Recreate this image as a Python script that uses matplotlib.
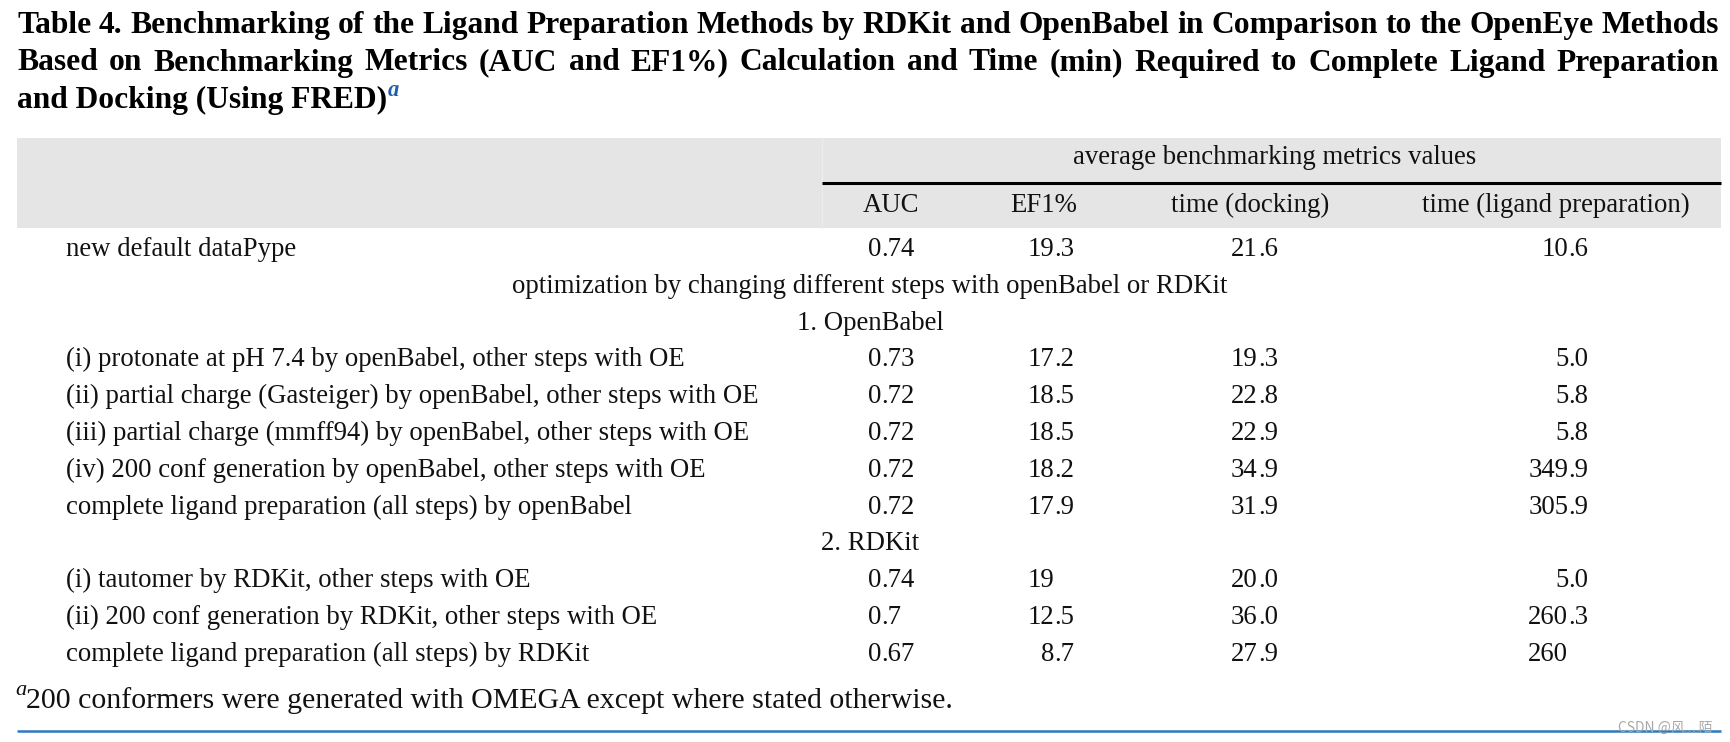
import matplotlib
matplotlib.use("Agg")
import matplotlib.pyplot as plt
from matplotlib.patches import Rectangle

# --- table content ---
title_lines = [
    "Table 4. Benchmarking of the Ligand Preparation Methods by RDKit and OpenBabel in Comparison to the OpenEye Methods",
    "Based on Benchmarking Metrics (AUC and EF1%) Calculation and Time (min) Required to Complete Ligand Preparation",
    "and Docking (Using FRED)",
]
group_header = "average benchmarking metrics values"
col_headers = ["AUC", "EF1%", "time (docking)", "time (ligand preparation)"]

default_label = "new default dataPype"
default_values = ["0.74", "19.3", "21.6", "10.6"]

optim_heading = "optimization by changing different steps with openBabel or RDKit"

openbabel_heading = "1. OpenBabel"
openbabel_labels = [
    "(i) protonate at pH 7.4 by openBabel, other steps with OE",
    "(ii) partial charge (Gasteiger) by openBabel, other steps with OE",
    "(iii) partial charge (mmff94) by openBabel, other steps with OE",
    "(iv) 200 conf generation by openBabel, other steps with OE",
    "complete ligand preparation (all steps) by openBabel",
]
openbabel_auc = ["0.73", "0.72", "0.72", "0.72", "0.72"]
openbabel_ef1 = ["17.2", "18.5", "18.5", "18.2", "17.9"]
openbabel_dock = ["19.3", "22.8", "22.9", "34.9", "31.9"]
openbabel_prep = ["5.0", "5.8", "5.8", "349.9", "305.9"]

rdkit_heading = "2. RDKit"
rdkit_labels = [
    "(i) tautomer by RDKit, other steps with OE",
    "(ii) 200 conf generation by RDKit, other steps with OE",
    "complete ligand preparation (all steps) by RDKit",
]
rdkit_auc = ["0.74", "0.7", "0.67"]
rdkit_ef1 = ["19", "12.5", "8.7"]
rdkit_dock = ["20.0", "36.0", "27.9"]
rdkit_prep = ["5.0", "260.3", "260"]

footnote = "200 conformers were generated with OMEGA except where stated otherwise."
watermark = "CSDN @风﹏陌"

SERIF = ["Liberation Serif", "DejaVu Serif"]

fig = plt.figure(figsize=(17.3, 7.42), dpi=100)
ax = fig.add_axes([0, 0, 1, 1])
ax.set_xlim(0, 1730)
ax.set_ylim(742, 0)
ax.axis("off")
renderer = fig.canvas.get_renderer()


def text_width(s, size, **kw):
    t = ax.text(0, 0, s, fontsize=size, family=SERIF, **kw)
    w = t.get_window_extent(renderer).width
    t.remove()
    return w


def fit_size(s, target, **kw):
    return 20 * target / text_width(s, 20, **kw)


def justify(s, x0, x1, y, size, **kw):
    words = s.split(" ")
    widths = [text_width(w, size, **kw) for w in words]
    gap = (x1 - x0 - sum(widths)) / (len(words) - 1)
    x = x0
    for w, wd in zip(words, widths):
        ax.text(x, y, w, fontsize=size, family=SERIF, ha="left", va="baseline", **kw)
        x += wd + gap


# --- title ---
tsize = fit_size(title_lines[0], 1702, weight="bold")
justify(title_lines[0], 17, 1719, 33, tsize, weight="bold")
justify(title_lines[1], 17, 1719, 70.5, tsize, weight="bold")
ax.text(17, 108, title_lines[2], fontsize=tsize, family=SERIF, weight="bold",
        ha="left", va="baseline")
w3 = text_width(title_lines[2], tsize, weight="bold")
ax.text(17 + w3 + 1, 96, "a", fontsize=tsize * 0.72, family=SERIF, weight="bold",
        style="italic", color="#1d5fae", ha="left", va="baseline")

# --- header band ---
ax.add_patch(Rectangle((17, 138), 1704, 90, color="#e5e5e5", lw=0))
ax.plot([822, 822], [138, 228], color="#ececec", lw=1)
ax.plot([822, 1721], [183, 183], color="black", lw=2.2, solid_capstyle="butt")

bsize = fit_size(openbabel_labels[1], 693)
body = dict(fontsize=bsize, family=SERIF, color="#111111", va="baseline")

ax.text(1275, 164, group_header, ha="center", **body)
header_x = [891, 1044, 1250, 1556]
for x, h in zip(header_x, col_headers):
    ax.text(x, 212, h, ha="center", **body)

# decimal alignment positions
dec_x = [
    868 + text_width("0", bsize),
    1028 + text_width("17", bsize),
    1231 + text_width("19", bsize),
    1555 + text_width("5", bsize),
]


def put_num(xd, y, s):
    ip, _, fp = s.partition(".")
    ax.text(xd, y, ip, ha="right", **body)
    if fp:
        ax.text(xd, y, "." + fp, ha="left", **body)


def put_row(y, label, values):
    ax.text(66, y, label, ha="left", **body)
    for xd, v in zip(dec_x, values):
        put_num(xd, y, v)


step = 36.8
base = 256
row = 0
put_row(base + row * step, default_label, default_values)
row += 1
ax.text(870, base + row * step, optim_heading, ha="center", **body)
row += 1
ax.text(870, base + row * step, openbabel_heading, ha="center", **body)
row += 1
for i, lab in enumerate(openbabel_labels):
    put_row(base + row * step, lab,
            [openbabel_auc[i], openbabel_ef1[i], openbabel_dock[i], openbabel_prep[i]])
    row += 1
ax.text(870, base + row * step, rdkit_heading, ha="center", **body)
row += 1
for i, lab in enumerate(rdkit_labels):
    put_row(base + row * step, lab,
            [rdkit_auc[i], rdkit_ef1[i], rdkit_dock[i], rdkit_prep[i]])
    row += 1

# --- footnote ---
fsize = fit_size(footnote, 925)
ax.text(15, 695, "a", fontsize=fsize * 0.75, family=SERIF, style="italic",
        color="#111111", ha="left", va="baseline")
ax.text(26, 708, footnote, fontsize=fsize, family=SERIF, color="#111111",
        ha="left", va="baseline")

ax.plot([17, 1721], [731, 731], color="#2a7bbf", lw=1.8, solid_capstyle="butt")
ax.text(1712, 732, watermark, fontsize=10, color="#a8a8a8",
        family=["Noto Sans CJK SC", "DejaVu Sans"], ha="right", va="baseline")

fig.savefig("out.png", dpi=100)
